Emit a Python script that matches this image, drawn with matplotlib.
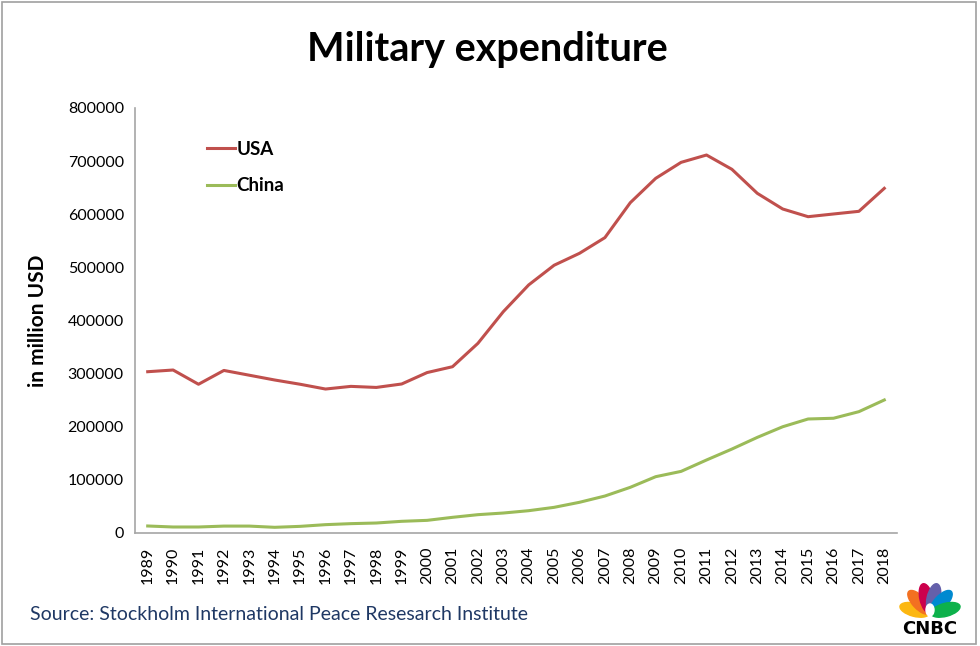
import matplotlib
matplotlib.use("Agg")
import matplotlib.pyplot as plt
from matplotlib.patches import Rectangle, Ellipse
import math

plt.rcParams['font.family'] = ['Lato', 'DejaVu Sans']

years = [str(y) for y in range(1989, 2019)]
usa = [303600, 306800, 280000, 306000, 297000, 288000, 280000, 271000, 276000, 274000,
       280500, 302000, 313000, 357000, 416600, 467000, 504000, 526500, 556000, 621800,
       667600, 697700, 711500, 684600, 639400, 609900, 595400, 600500, 605500, 648800]
china = [13200, 11300, 11300, 13000, 13000, 10700, 12500, 15700, 17600, 18800,
         22000, 23800, 29500, 34500, 37600, 42000, 48300, 57800, 69600, 86000,
         106000, 116000, 137400, 158000, 180000, 200000, 214600, 216000, 228400, 250400]
series_names = ["USA", "China"]
colors = ["#C0504D", "#9BBB59"]
yticks = [0, 100000, 200000, 300000, 400000, 500000, 600000, 700000, 800000]

fig = plt.figure(figsize=(9.8, 6.46), dpi=100)
ax = fig.add_axes([135/980, 1-533/646, (897-135)/980, (533-108)/646])

x = list(range(len(years)))
l1, = ax.plot(x, usa, color=colors[0], lw=2.2, label=series_names[0])
l2, = ax.plot(x, china, color=colors[1], lw=2.2, label=series_names[1])

ax.set_xlim(-0.5, len(years) - 0.5)
ax.set_ylim(0, 800000)
ax.set_xticks(x)
ax.set_xticklabels(years, rotation=90, fontsize=11.5)
ax.set_yticks(yticks)
ax.set_yticklabels([str(v) for v in yticks], fontsize=11.5)
ax.tick_params(length=0, pad=8)
ax.tick_params(axis='x', pad=10)
for s in ['top', 'right']:
    ax.spines[s].set_visible(False)
for s in ['left', 'bottom']:
    ax.spines[s].set_color('#A6A6A6')
    ax.spines[s].set_linewidth(1.2)

ax.set_ylabel("in million USD", fontsize=15, fontweight='bold', labelpad=14)

leg = ax.legend(handles=[l1, l2], loc='upper left', bbox_to_anchor=(0.072, 0.963),
                frameon=False, prop={'size': 13.5, 'weight': 'bold'},
                handlelength=1.5, handletextpad=0.08, labelspacing=1.05)

fig.text(487/980, 1-50/646, "Military expenditure", ha='center', va='center',
         fontsize=28.5, fontweight='bold')
fig.text(30/980, 1-614/646, "Source: Stockholm International Peace Resesarch Institute",
         ha='left', va='center', fontsize=14, color='#1F3864')

# border
fig.patches.append(Rectangle((0.002, 0.003), 0.994, 0.994, transform=fig.transFigure,
                             fill=False, edgecolor='#A0A0A0', lw=1.2))

# CNBC peacock logo (approximation)
lax = fig.add_axes([890/980, 1-636/646, 80/980, 64/646])
lax.set_xlim(0, 80)
lax.set_ylim(0, 64)
lax.axis('off')
feather_cols = ['#FCB711', '#F37021', '#CC004C', '#6460AA', '#0089D0', '#0DB14B']
cx, cy = 40, 22
angles = [165, 133, 103, 77, 47, 15]
for ang, c in zip(angles, feather_cols):
    r = 16
    ex = cx + r * math.cos(math.radians(ang))
    ey = cy + r * math.sin(math.radians(ang))
    lax.add_patch(Ellipse((ex, ey), 30, 13, angle=ang, color=c, zorder=1))
lax.add_patch(Ellipse((cx, cy + 4), 8, 12, color='white', zorder=2))
lax.text(40, 7, "CNBC", ha='center', va='center', fontsize=13, fontweight='black',
         family=['DejaVu Sans'], color='black')

fig.savefig("out.png", dpi=100)
